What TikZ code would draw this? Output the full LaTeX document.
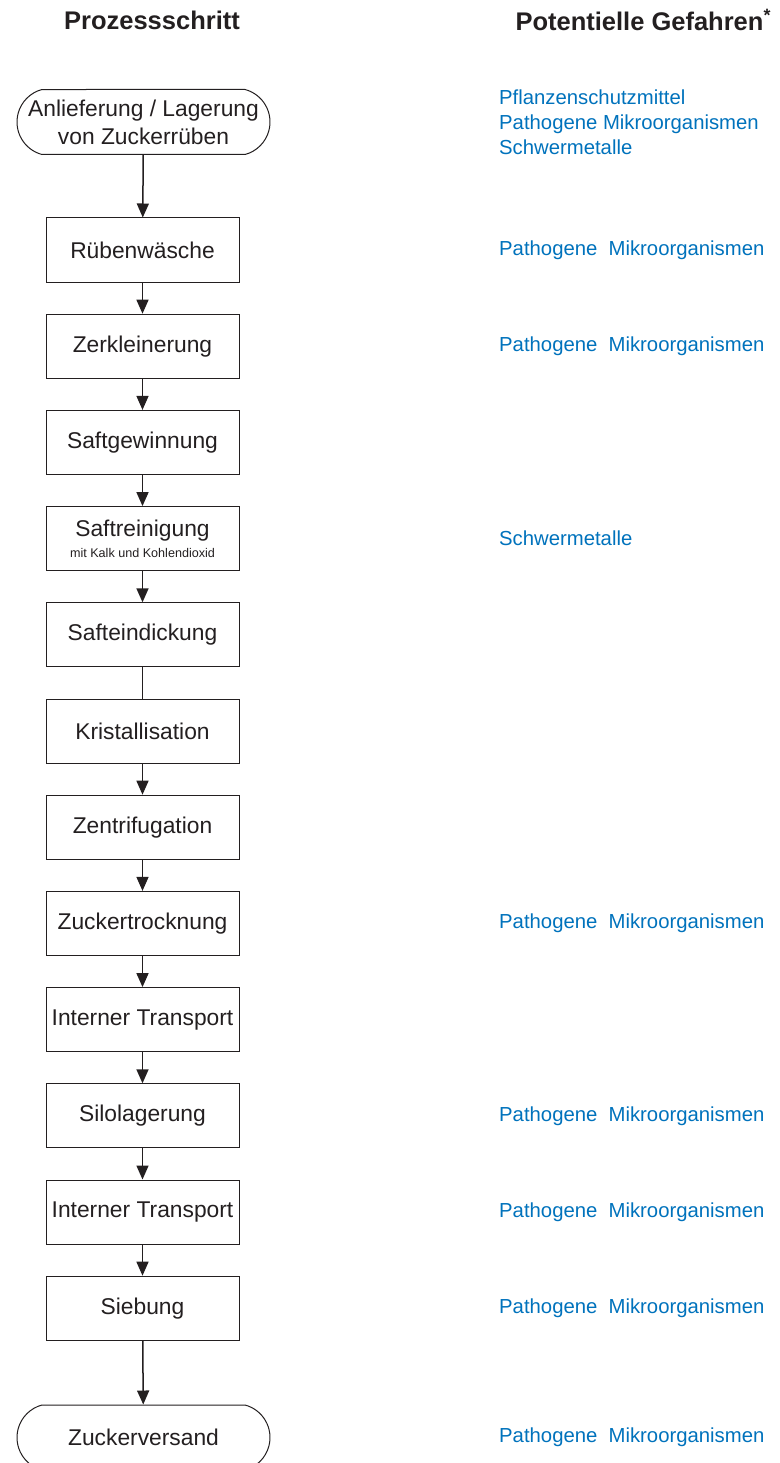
\documentclass[tikz,border=0pt]{standalone}
\usepackage{fontspec}
\setmainfont{Liberation Sans}
\usepackage{xcolor}
\usepackage{tikz}
\usetikzlibrary{
  arrows.meta, shapes.misc, positioning, calc
}
\definecolor{C_LINE}{HTML}{231F20}
\definecolor{C_GEF} {HTML}{0072BC}

\begin{document}
\begin{tikzpicture}[
  node distance=31.2pt,
  every node/.style={font=\fontsize{22.8}{26}\selectfont, text=C_LINE},
  box/.style={draw=C_LINE, line width=1pt, minimum width=193pt,
              minimum height=64pt, inner sep=2pt, align=center},
  term/.style={draw=C_LINE, line width=1pt, rounded rectangle,
               rounded rectangle arc length=150, minimum width=257pt,
               minimum height=65pt, inner sep=2pt, align=center,
               font=\fontsize{22.8}{28}\selectfont},
  head/.style={font=\fontsize{25.5}{30}\selectfont\bfseries},
  gef/.style={anchor=west, align=left, text=C_GEF, inner sep=0pt,
              font=\fontsize{20.3}{25}\selectfont},
  arrow/.style={-{Triangle[length=14pt,width=12pt]}, line width=1.5pt, draw=C_LINE},
  line/.style={line width=1.5pt, draw=C_LINE},
]
\useasboundingbox (0,0) rectangle (779pt,-1463pt);

%% headers
\node[head] (hproz) at (152pt,-20pt) {Prozessschritt};
\node[head, anchor=west] (hgef) at (512pt,-20pt) {Potentielle Gefahren\textsuperscript{*}};

%% process steps
\node[term] (anlief) at (143.5pt,-122pt) {Anlieferung / Lagerung\\von Zuckerrüben};
\node[box] (waesche) at (142.5pt,-250pt) {Rübenwäsche};
\node[box, below=of waesche]  (zerkl)    {Zerkleinerung};
\node[box, below=of zerkl]    (saftgew)  {Saftgewinnung};
\node[box, below=of saftgew]  (saftrein) {Saftreinigung\\[-5pt]
  {\fontsize{12.6}{15}\selectfont mit Kalk und Kohlendioxid}};
\node[box, below=of saftrein] (safteind) {Safteindickung};
\node[box, below=of safteind] (krist)    {Kristallisation};
\node[box, below=of krist]    (zentr)    {Zentrifugation};
\node[box, below=of zentr]    (trockn)   {Zuckertrocknung};
\node[box, below=of trockn]   (transpA)  {Interner Transport};
\node[box, below=of transpA]  (silo)     {Silolagerung};
\node[box, below=of silo]     (transpB)  {Interner Transport};
\node[box, below=of transpB]  (sieb)     {Siebung};
\node[term] (versand) at (143.5pt,-1437.5pt) {Zuckerversand};

%% connectors
\draw[arrow] (anlief)   -- (waesche);
\draw[arrow] (waesche)  -- (zerkl);
\draw[arrow] (zerkl)    -- (saftgew);
\draw[arrow] (saftgew)  -- (saftrein);
\draw[arrow] (saftrein) -- (safteind);
\draw[line]  (safteind) -- (krist);
\draw[arrow] (krist)    -- (zentr);
\draw[arrow] (zentr)    -- (trockn);
\draw[arrow] (trockn)   -- (transpA);
\draw[arrow] (transpA)  -- (silo);
\draw[arrow] (silo)     -- (transpB);
\draw[arrow] (transpB)  -- (sieb);
\draw[arrow] (sieb)     -- (versand);

%% hazards
\coordinate (gx) at (499pt,0);
\node[gef] (gAnlief)  at (gx |- anlief)
  {Pflanzenschutzmittel\\Pathogene Mikroorganismen\\Schwermetalle};
\node[gef] (gWaesche) at (gx |- waesche)  {Pathogene~ Mikroorganismen};
\node[gef] (gZerkl)   at (gx |- zerkl)    {Pathogene~ Mikroorganismen};
\node[gef] (gRein)    at (gx |- saftrein) {Schwermetalle};
\node[gef] (gTrockn)  at (gx |- trockn)   {Pathogene~ Mikroorganismen};
\node[gef] (gSilo)    at (gx |- silo)     {Pathogene~ Mikroorganismen};
\node[gef] (gTranspB) at (gx |- transpB)  {Pathogene~ Mikroorganismen};
\node[gef] (gSieb)    at (gx |- sieb)     {Pathogene~ Mikroorganismen};
\node[gef] (gVersand) at (gx |- versand)  {Pathogene~ Mikroorganismen};

\end{tikzpicture}
\end{document}
